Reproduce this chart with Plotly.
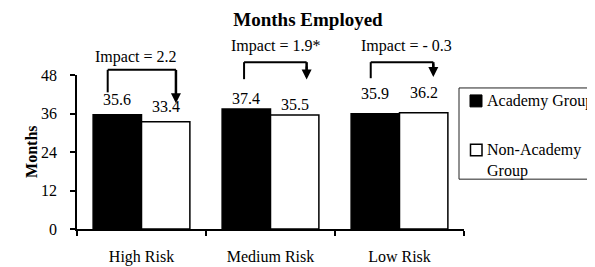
import plotly.graph_objects as go

# ---- data ----
categories = ["High Risk", "Medium Risk", "Low Risk"]
academy = [35.6, 37.4, 35.9]
non_academy = [33.4, 35.5, 36.2]
impact_labels = ["Impact = 2.2", "Impact = 1.9*", "Impact = - 0.3"]
series_names = ["Academy Group", "Non-Academy Group"]
y_ticks = [0, 12, 24, 36, 48]

FONT = "Times New Roman, Liberation Serif, serif"
YMAX = 48
OFF = 8  # page body margin compensation

fig = go.Figure()
fig.add_trace(go.Bar(x=categories, y=academy, name=series_names[0],
                     marker=dict(color="black", line=dict(color="black", width=1.5)),
                     showlegend=False, hoverinfo="x+y"))
fig.add_trace(go.Bar(x=categories, y=non_academy, name=series_names[1],
                     marker=dict(color="white", line=dict(color="black", width=1.5)),
                     showlegend=False, hoverinfo="x+y"))

annotations = []
shapes = []

# value labels above bars (pixel lift per group)
lift = [15, 11, 20]
bar_off = 0.188
for i in range(len(categories)):
    for off, vals in ((-bar_off, academy), (bar_off, non_academy)):
        annotations.append(dict(x=i + off, y=vals[i], xref="x", yref="y",
                                text=f"{vals[i]:.1f}", showarrow=False,
                                yanchor="middle", yshift=lift[i],
                                font=dict(family=FONT, size=16, color="black")))

# impact brackets (layout geometry)
brackets = [
    # xl, xr, ytop, yleft_bottom, ytip, ytext, xtext
    (-0.262, 0.267, 49.6, 42.6, 39.2, 53.7, -0.043),
    (-0.205, 0.280, 52.0, 46.7, 46.6, 56.9, 0.039),
    (-0.223, 0.262, 52.0, 47.0, 47.4, 56.9, 0.054),
]
for i, (xl, xr, yt, ylb, ytip, ytx, xtx) in enumerate(brackets):
    line = dict(color="black", width=2)
    shapes.append(dict(type="line", xref="x", yref="paper", x0=i + xl, x1=i + xl,
                       y0=ylb / YMAX, y1=yt / YMAX, line=line))
    shapes.append(dict(type="line", xref="x", yref="paper", x0=i + xl, x1=i + xr,
                       y0=yt / YMAX, y1=yt / YMAX, line=line))
    shapes.append(dict(type="line", xref="x", yref="paper", x0=i + xr, x1=i + xr,
                       y0=(ytip + 2.5) / YMAX, y1=yt / YMAX, line=dict(color="black", width=2.5)))
    annotations.append(dict(x=i + xr, y=ytip, xref="x", yref="y",
                            ax=i + xr, ay=ytip + 4.5, axref="x", ayref="y",
                            text="", showarrow=True, arrowhead=2, arrowwidth=2,
                            arrowsize=1, arrowcolor="black", standoff=0,
                            font=dict(size=1)))
    annotations.append(dict(x=i + xtx, y=ytx / YMAX, xref="x", yref="paper",
                            text=impact_labels[i], showarrow=False,
                            xanchor="center", yanchor="middle",
                            font=dict(family=FONT, size=16, color="black")))

# y-axis title
annotations.append(dict(x=-0.119, y=0.5, xref="paper", yref="paper", text="<b>Months</b>",
                        textangle=-90, showarrow=False, xanchor="center", yanchor="middle",
                        font=dict(family=FONT, size=16, color="black")))

# manual legend (positions measured relative to the plot area)
px_w, px_h = 387.0, 154.5
def px_x(p):
    return (p - 77) / px_w
def px_y(p):
    return (229.5 - p) / px_h

shapes.append(dict(type="rect", xref="paper", yref="paper",
                   x0=px_x(459), x1=px_x(610), y0=px_y(179.5), y1=px_y(88),
                   line=dict(color="#222222", width=1), fillcolor="rgba(0,0,0,0)"))
shapes.append(dict(type="rect", xref="paper", yref="paper",
                   x0=px_x(470), x1=px_x(482), y0=px_y(107), y1=px_y(95),
                   line=dict(color="black", width=1), fillcolor="black"))
shapes.append(dict(type="rect", xref="paper", yref="paper",
                   x0=px_x(470.5), x1=px_x(482), y0=px_y(156), y1=px_y(144.5),
                   line=dict(color="black", width=1.5), fillcolor="white"))
annotations.append(dict(x=px_x(485), y=px_y(101), xref="paper", yref="paper",
                        text=series_names[0], showarrow=False, xanchor="left", yanchor="middle",
                        font=dict(family=FONT, size=16, color="black")))
annotations.append(dict(x=px_x(485), y=px_y(139), xref="paper", yref="paper",
                        text="Non-Academy<br>Group", showarrow=False, xanchor="left", yanchor="top",
                        align="left", font=dict(family=FONT, size=16, color="black")))

W, H = 595 - OFF, 267 - OFF
fig.update_layout(
    width=W, height=H,
    margin=dict(l=77 - OFF, r=W - (464 - OFF), t=75 - OFF, b=H - (229.5 - OFF), autoexpand=False),
    paper_bgcolor="white", plot_bgcolor="white",
    barmode="group", bargap=0.25, bargroupgap=0,
    title=dict(text="<b>Months Employed</b>", x=(308 - OFF) / W, xanchor="center",
               y=1 - (19 - OFF) / H, yanchor="middle", xref="container", yref="container",
               font=dict(family=FONT, size=19, color="black")),
    font=dict(family=FONT, size=16, color="black"),
    xaxis=dict(type="category", showline=True, linecolor="black", linewidth=1.5,
               ticks="outside", tickson="boundaries", ticklen=5, tickcolor="black",
               tickwidth=1.5, showgrid=False, zeroline=False, ticklabelstandoff=12,
               tickfont=dict(family=FONT, size=16, color="black")),
    yaxis=dict(range=[0, YMAX], tickvals=y_ticks, showline=True, linecolor="black",
               linewidth=1.5, ticks="outside", ticklen=5, tickcolor="black", tickwidth=1.5,
               showgrid=False, zeroline=False, ticklabelstandoff=10,
               tickfont=dict(family=FONT, size=16, color="black")),
    annotations=annotations,
    shapes=shapes,
    showlegend=False,
)

fig.write_html("out.html")
